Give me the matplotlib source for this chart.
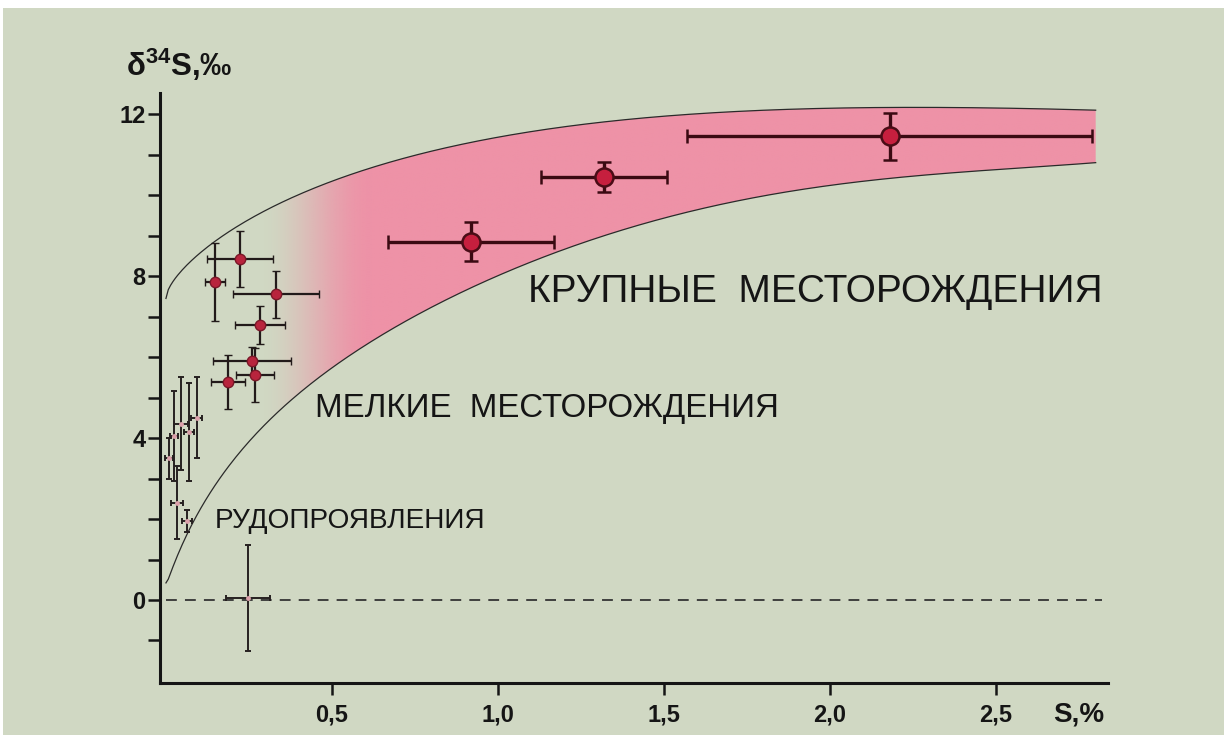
import numpy as np
import matplotlib
matplotlib.use("Agg")
import matplotlib.pyplot as plt
from matplotlib.patches import Polygon, Rectangle

plt.rcParams['font.family'] = ['Liberation Sans', 'DejaVu Sans']
plt.rcParams['mathtext.fontset'] = 'custom'
plt.rcParams['mathtext.rm'] = 'Liberation Sans'
plt.rcParams['mathtext.bf'] = 'Liberation Sans:bold'

# ---- data -------------------------------------------------------------
# large deposits (S content %, delta34S permil, errors)
big_s = [0.92, 1.32, 2.18]
big_d = [8.85, 10.45, 11.45]
big_s_err = [0.25, 0.19, 0.61]
big_d_err = [0.48, 0.37, 0.58]

# small deposits
small_s = [0.223, 0.148, 0.331, 0.283, 0.259, 0.187, 0.268]
small_d = [8.42, 7.85, 7.55, 6.79, 5.90, 5.38, 5.55]
small_s_err = [0.10, 0.03, 0.13, 0.075, 0.117, 0.05, 0.058]
small_d_err = [0.70, 0.97, 0.58, 0.47, 0.35, 0.67, 0.67]

# ore occurrences
occ_s = [0.010, 0.025, 0.045, 0.068, 0.093, 0.033, 0.063, 0.247]
occ_d = [3.50, 4.05, 4.35, 4.15, 4.50, 2.40, 1.95, 0.05]
occ_s_err = [0.012, 0.012, 0.020, 0.015, 0.017, 0.018, 0.016, 0.066]
occ_d_err = [0.50, 1.10, 1.15, 1.20, 1.00, 0.90, 0.27, 1.30]

# field boundaries
upper_s = [0.0, 0.07, 0.142, 0.25, 0.383, 0.55, 0.684, 0.985, 1.37, 1.70, 2.06, 2.45, 2.80]
upper_d = [7.45, 8.28, 8.89, 9.42, 9.90, 10.45, 10.86, 11.43, 11.85, 12.05, 12.15, 12.15, 12.10]
lower_s = [0.0, 0.072, 0.15, 0.223, 0.33, 0.485, 0.60, 0.855, 1.057, 1.18, 1.67, 2.06, 2.45, 2.80]
lower_d = [0.42, 1.80, 2.80, 3.63, 4.65, 5.65, 6.30, 7.40, 8.15, 8.70, 9.75, 10.30, 10.60, 10.80]

x_ticks = [0.5, 1.0, 1.5, 2.0, 2.5]
x_tick_labels = ['0,5', '1,0', '1,5', '2,0', '2,5']
y_ticks = list(range(-1, 13))
y_tick_labels = [str(v) if v % 4 == 0 else '' for v in y_ticks]

label_big = 'КРУПНЫЕ  МЕСТОРОЖДЕНИЯ'
label_small = 'МЕЛКИЕ  МЕСТОРОЖДЕНИЯ'
label_occ = 'РУДОПРОЯВЛЕНИЯ'

# ---- helpers ------------------------------------------------------------
def smooth_boundary(xs, ys, deg, n=400):
    """Least-squares curve in sqrt(S) through the boundary points."""
    xs = np.asarray(xs, float)
    ys = np.asarray(ys, float)
    coef = np.polyfit(np.sqrt(xs), ys, deg)
    gx = np.linspace(xs.min(), xs.max(), n)
    return gx, np.polyval(coef, np.sqrt(gx))

# ---- figure ---------------------------------------------------------------
BG = '#d0d8c3'
PINK = np.array([238, 146, 167]) / 255.0
INK = '#151515'

fig = plt.figure(figsize=(12.24, 7.38), dpi=100, facecolor='white')
fig.patches.append(Rectangle((3 / 1224, 3 / 738), 1 - 3 / 1224, (735 - 8) / 738,
                             transform=fig.transFigure, facecolor=BG, edgecolor='none',
                             zorder=-10))

ax = fig.add_axes([0.1307, 0.0745, 0.7745, 0.7995])
ax.set_facecolor('none')

ux, uy = smooth_boundary(upper_s, upper_d, 4)
lx, ly = smooth_boundary(lower_s, lower_d, 6)

# pink field of large deposits, fading out toward small contents
verts = np.vstack([np.column_stack([ux, uy]), np.column_stack([lx, ly])[::-1]])
field = Polygon(verts, closed=True, facecolor='none', edgecolor='none')
ax.add_patch(field)
gx = np.linspace(0, 2.8, 800)
ramp = np.clip((gx - 0.28) / 0.34, 0, 1)
ramp = ramp * ramp * (3 - 2 * ramp)
img = np.zeros((2, gx.size, 4))
img[..., :3] = PINK
img[..., 3] = ramp
im = ax.imshow(img, extent=[0, 2.8, -1, 13], aspect='auto', origin='lower',
               interpolation='bilinear', zorder=1)
im.set_clip_path(field)

ax.plot(ux, uy, color='#2a2a2a', lw=0.9, zorder=2)
ax.plot(lx, ly, color='#2a2a2a', lw=0.9, zorder=2)

# zero line
ax.plot([0, 2.82], [0, 0], color='#333333', lw=1.3, ls=(0, (6, 4.5)), zorder=2)

# ore occurrences
ax.errorbar(occ_s, occ_d, xerr=occ_s_err, yerr=occ_d_err, fmt='o', ms=3.5,
            mfc='#dba0aa', mec='none', ecolor='#262020', elinewidth=1.4,
            capsize=2.5, capthick=1.4, zorder=3)

# small deposits
ax.errorbar(small_s, small_d, xerr=small_s_err, yerr=small_d_err, fmt='o', ms=7.5,
            mfc='#b8243d', mec='#7a1828', mew=1.0, ecolor='#221a1a', elinewidth=1.6,
            capsize=3, capthick=1.6, zorder=4)

# large deposits
ax.errorbar(big_s, big_d, xerr=big_s_err, yerr=big_d_err, fmt='o', ms=13,
            mfc='#c61f3e', mec='#4a0c16', mew=1.8, ecolor='#3a0a12', elinewidth=2.4,
            capsize=5, capthick=2.4, zorder=5)

# field labels
ax.text(1.09, 7.36, label_big, fontsize=28, color=INK, ha='left', va='baseline', zorder=6)
ax.text(0.449, 4.52, label_small, fontsize=23.8, color=INK, ha='left', va='baseline', zorder=6)
ax.text(0.148, 1.78, label_occ, fontsize=20.2, color=INK, ha='left', va='baseline', zorder=6)

# axes
ax.set_xlim(-0.018, 2.837)
ax.set_ylim(-2.05, 12.52)
for side in ('top', 'right'):
    ax.spines[side].set_visible(False)
for side in ('left', 'bottom'):
    ax.spines[side].set_linewidth(2.2)
    ax.spines[side].set_color(INK)

ax.set_xticks(x_ticks)
ax.set_xticklabels(x_tick_labels, fontsize=17, fontweight='bold')
ax.set_yticks(y_ticks)
ax.set_yticklabels(y_tick_labels, fontsize=17, fontweight='bold')
ax.tick_params(axis='both', direction='out', length=8.5, width=1.8, color=INK, labelcolor=INK)
ax.tick_params(axis='x', pad=6)
ax.tick_params(axis='y', pad=2)

fig.text(126 / 1224, 1 - 76 / 738, 'δ$^{\\mathbf{34}}$S,‰', fontsize=22.5, fontweight='bold',
         color=INK, ha='left', va='baseline')
fig.text(1053 / 1224, 1 - 722 / 738, 'S,%', fontsize=20, fontweight='bold',
         color=INK, ha='left', va='baseline')

fig.savefig('out.png', dpi=100, facecolor=fig.get_facecolor())
